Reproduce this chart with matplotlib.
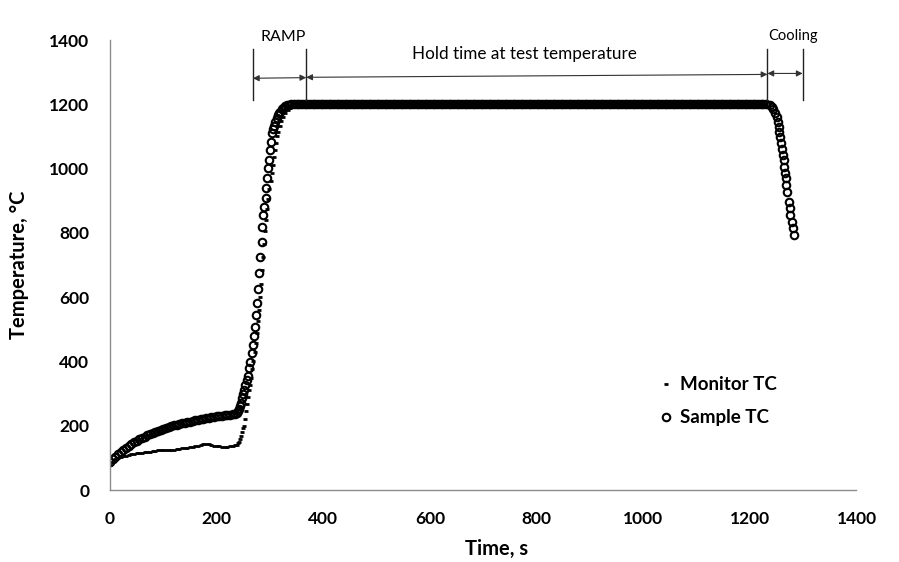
import numpy as np
import matplotlib
matplotlib.use("Agg")
import matplotlib.pyplot as plt

plt.rcParams["font.family"] = ["Lato", "DejaVu Sans"]

# --- data (time in s, temperature in degC) ---
low_time = np.arange(0, 236, 5)
low_sample = [88, 96, 104, 111, 118, 124, 130, 137, 143, 148, 153, 158, 162, 166,
              170, 174, 178, 182, 185, 188, 191, 194, 196, 199, 201, 203, 205, 207,
              209, 211, 213, 215, 217, 219, 221, 222, 224, 225, 227, 228, 229, 230,
              231, 232, 233, 234, 235, 236]
low_monitor = [78, 88, 95, 99, 102, 105, 107, 109, 111, 113, 114, 115, 116, 118,
               119, 119, 121, 122, 123, 124, 124, 124, 125, 126, 126, 127, 129, 130,
               130, 131, 133, 134, 136, 138, 140, 142, 143, 142, 140, 138, 137, 136,
               135, 135, 135, 136, 137, 139]

ramp_time_sample = [238, 240, 242, 244, 246, 248, 250, 252, 254, 256, 258, 260.7,
                    263.1, 265.8, 268.8, 270.6, 272.5, 274.4, 276, 278, 279.5, 281.3,
                    284.5, 285.7, 287.5, 289.4, 292, 293.2, 294.4, 297, 298.8, 300,
                    302, 304.4, 306, 308, 310, 312.6, 315, 317, 319, 322, 325, 328,
                    332, 336, 340]
ramp_sample = [240, 245, 252, 260, 272, 285, 298, 312, 326, 341, 356, 379, 399, 425,
               451, 479, 508, 544, 581, 626, 676, 726, 773, 819, 856, 881, 908, 939,
               970, 1001, 1027, 1058, 1084, 1110, 1122, 1133, 1145, 1157, 1166, 1172,
               1177, 1184, 1190, 1194, 1197, 1199, 1200]

ramp_time_monitor = [238, 240, 242, 244, 246, 248, 250, 251, 253, 255, 257, 259, 261,
                     263, 265, 267, 269, 271, 273, 275, 277, 279, 281, 283, 285, 287,
                     289, 291, 293, 295, 297, 299, 301, 303, 305, 307, 309, 311, 313,
                     315, 318, 321, 325, 329, 333, 338, 342]
ramp_monitor = [140, 145, 150, 158, 168, 180, 192, 200, 222, 245, 268, 290, 310, 328,
                350, 375, 400, 428, 458, 490, 525, 560, 600, 640, 685, 725, 765, 805,
                840, 875, 905, 935, 960, 985, 1010, 1035, 1058, 1080, 1100, 1115, 1132,
                1148, 1162, 1174, 1183, 1190, 1195]

# hold: logged every 5 s from 345 s, flat at the 1200 degC set point
hold_time = np.arange(345, 1235, 5)
hold_temp = [
    1200, 1200, 1200, 1200, 1200, 1200, 1200, 1200, 1200, 1200, 1200, 1200, 1200,
    1200, 1200, 1200, 1200, 1200, 1200, 1200, 1200, 1200, 1200, 1200, 1200, 1200,
    1200, 1200, 1200, 1200, 1200, 1200, 1200, 1200, 1200, 1200, 1200, 1200, 1200,
    1200, 1200, 1200, 1200, 1200, 1200, 1200, 1200, 1200, 1200, 1200, 1200, 1200,
    1200, 1200, 1200, 1200, 1200, 1200, 1200, 1200, 1200, 1200, 1200, 1200, 1200,
    1200, 1200, 1200, 1200, 1200, 1200, 1200, 1200, 1200, 1200, 1200, 1200, 1200,
    1200, 1200, 1200, 1200, 1200, 1200, 1200, 1200, 1200, 1200, 1200, 1200, 1200,
    1200, 1200, 1200, 1200, 1200, 1200, 1200, 1200, 1200, 1200, 1200, 1200, 1200,
    1200, 1200, 1200, 1200, 1200, 1200, 1200, 1200, 1200, 1200, 1200, 1200, 1200,
    1200, 1200, 1200, 1200, 1200, 1200, 1200, 1200, 1200, 1200, 1200, 1200, 1200,
    1200, 1200, 1200, 1200, 1200, 1200, 1200, 1200, 1200, 1200, 1200, 1200, 1200,
    1200, 1200, 1200, 1200, 1200, 1200, 1200, 1200, 1200, 1200, 1200, 1200, 1200,
    1200, 1200, 1200, 1200, 1200, 1200, 1200, 1200, 1200, 1200, 1200, 1200, 1200,
    1200, 1200, 1200, 1200, 1200, 1200, 1200, 1200, 1200,
]

cool_time = [1238, 1241, 1244, 1247, 1250, 1252, 1254, 1255.5, 1257, 1259, 1260.4,
             1262, 1263.5, 1264.7, 1266, 1267.3, 1268.6, 1270.5, 1273, 1274.8, 1276,
             1278.6, 1280.5, 1282.4]
cool_sample = [1197, 1192, 1184, 1173, 1161, 1146, 1130, 1115, 1099, 1081, 1060, 1042,
               1027, 1006, 985, 970, 949, 928, 897, 876, 856, 835, 814, 792]

series_names = ["Monitor TC", "Sample TC"]

# phase markers: (start, end, label)
ramp_span = (268, 368, "RAMP")
hold_span = (368, 1233, "Hold time at test temperature")
cool_span = (1233, 1299, "Cooling")

ticks = [0, 200, 400, 600, 800, 1000, 1200, 1400]

# --- assemble series ---
t_sample = np.concatenate([low_time, ramp_time_sample, hold_time, cool_time])
y_sample = np.concatenate([low_sample, ramp_sample, hold_temp, cool_sample])
t_monitor = np.concatenate([low_time, ramp_time_monitor, hold_time])
y_monitor = np.concatenate([low_monitor, ramp_monitor, hold_temp])

fig = plt.figure(figsize=(8.99, 5.62), dpi=100)
ax = fig.add_axes([0.1224, 0.1281, 0.8303, 0.8007])

ax.plot(t_monitor, y_monitor, linestyle="none", marker="_", markersize=3.5,
        markeredgewidth=2, color="black", label=series_names[0])
ax.plot(t_sample, y_sample, linestyle="none", marker="o", markersize=5.4,
        markerfacecolor="none", markeredgewidth=1.5, markeredgecolor="black",
        label=series_names[1])

ax.set_xlim(0, 1400)
ax.set_ylim(0, 1400)
ax.set_xticks(ticks)
ax.set_yticks(ticks)
ax.tick_params(length=0, pad=15, labelsize=12.5)
for lab in ax.get_xticklabels() + ax.get_yticklabels():
    lab.set_fontweight("bold")

for side in ["top", "right"]:
    ax.spines[side].set_visible(False)
for side in ["left", "bottom"]:
    ax.spines[side].set_color("#8c8c8c")
    ax.spines[side].set_linewidth(1.0)

ax.set_xlabel("Time, s", fontsize=14.5, fontweight="bold")
ax.set_ylabel("Temperature, °C", fontsize=14.5, fontweight="bold")
ax.xaxis.set_label_coords(0.518, -0.108)
ax.yaxis.set_label_coords(-0.108, 0.5)

# phase annotations
vline_kw = dict(color="#222222", linewidth=1.0, clip_on=False)
arrow_kw = dict(arrowstyle="<|-|>", color="#333333", lw=0.8, mutation_scale=9,
                shrinkA=0, shrinkB=0)
for x in [ramp_span[0], ramp_span[1], hold_span[1], cool_span[1]]:
    ax.plot([x, x], [1213, 1372], **vline_kw)

ax.annotate("", xy=(ramp_span[0], 1281), xytext=(ramp_span[1], 1283),
            arrowprops=arrow_kw, annotation_clip=False)
ax.annotate("", xy=(hold_span[0], 1284), xytext=(hold_span[1], 1293),
            arrowprops=arrow_kw, annotation_clip=False)
ax.annotate("", xy=(cool_span[0], 1296), xytext=(cool_span[1], 1296),
            arrowprops=arrow_kw, annotation_clip=False)

ax.text(325, 1410, ramp_span[2], fontsize=11.5,
        ha="center", va="center", clip_on=False)
ax.text(778, 1358, hold_span[2], fontsize=12.3, ha="center", va="center")
ax.text(1281, 1412, cool_span[2], fontsize=10.5, ha="center", va="center",
        clip_on=False)

leg = ax.legend(loc="upper left", bbox_to_anchor=(0.712, 0.29), frameon=False,
                handlelength=0.8, handletextpad=0.35, labelspacing=0.85,
                prop={"size": 13.5, "weight": "bold"})

fig.savefig("out.png", dpi=100)
